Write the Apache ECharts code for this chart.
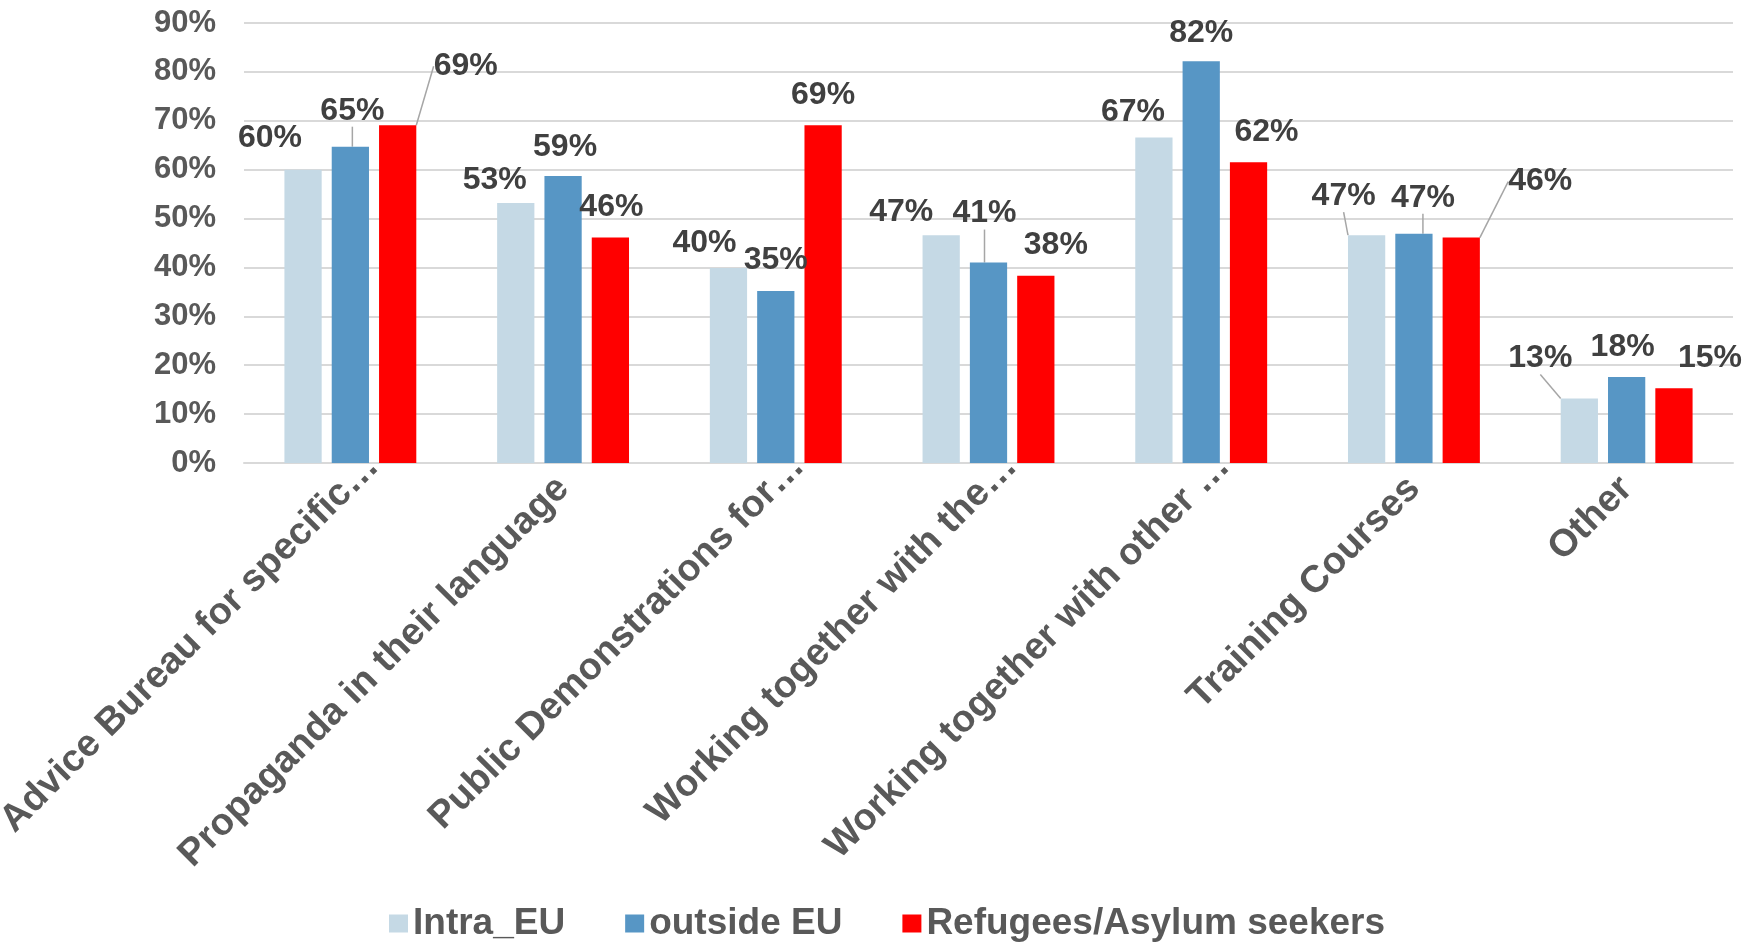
<!DOCTYPE html>
<html>
<head>
<meta charset="utf-8">
<script src="https://cdn.jsdelivr.net/npm/echarts@6/dist/echarts.min.js"></script>
<style>
html,body{margin:0;padding:0;background:#fff;}
#chart{width:1753px;height:944px;}
</style>
</head>
<body>
<div id="chart"></div>
<script>
const categories = [
  "Advice Bureau for specific…",
  "Propaganda in their language",
  "Public Demonstrations for…",
  "Working together with the…",
  "Working together with other …",
  "Training Courses",
  "Other"
];
const seriesNames = ["Intra_EU", "outside EU", "Refugees/Asylum seekers"];
const intraEU = [60, 53.2, 39.9, 46.6, 66.6, 46.6, 13.2];
const outsideEU = [64.7, 58.7, 35.2, 41.0, 82.2, 46.9, 17.6];
const refugees = [69.1, 46.1, 69.1, 38.3, 61.5, 46.1, 15.3];
const yTicks = [0, 10, 20, 30, 40, 50, 60, 70, 80, 90];

// label placement (style): offsets relative to default top position
const labelOffsets = [
  [[-33,-10],[-21,-2],[-24,-4],[-40,-2],[-21,-4],[-23,-18],[-39,-19]],
  [[2,-15],[2,-8],[0,-10],[-4,-28],[0,-7],[9,-15],[-4,-9]],
  [[68,-38],[1,-9],[0,-9],[20,-10],[18,-9],[79,-35],[36,-9]]
];
const leaderLines = [
  [false,false,false,false,false,true,true],
  [true,false,false,true,false,true,false],
  [true,false,false,false,false,true,false]
];
const colors = ["#C5D9E5", "#5796C5", "#FF0000"];
const FONT = "'Liberation Sans', Arial, sans-serif";

const chart = echarts.init(document.getElementById('chart'));
const values = [intraEU, outsideEU, refugees];

const series = values.map((vals, si) => ({
  name: seriesNames[si],
  type: 'bar',
  barGap: '27%',
  barCategoryGap: '38%',
  itemStyle: { color: colors[si] },
  data: vals.map((v, i) => ({
    value: v,
    labelLine: { show: leaderLines[si][i] }
  })),
  label: {
    show: true,
    position: 'top',
    distance: 5,
    fontFamily: FONT,
    fontWeight: 'bold',
    fontSize: 32,
    color: '#404040',
    formatter: p => Math.round(p.value) + '%'
  },
  labelLine: {
    show: false,
    lineStyle: { color: '#A6A6A6', width: 1.5 }
  },
  labelLayout: params => {
    const o = labelOffsets[params.seriesIndex][params.dataIndex];
    return { dx: o[0], dy: o[1] };
  }
}));

const catStyle = { fontFamily: FONT, fontWeight: 'bold', fontSize: 38, color: '#595959' };

chart.setOption({
  animation: false,
  color: colors,
  grid: { left: 244, right: 20, top: 23, bottom: 481, containLabel: false, outerBoundsMode: 'none' },
  legend: {
    data: seriesNames,
    top: 900,
    left: 384,
    itemWidth: 19,
    itemHeight: 18,
    itemGap: 60,
    icon: 'rect',
    textStyle: { fontFamily: FONT, fontWeight: 'bold', fontSize: 37, color: '#595959' }
  },
  xAxis: {
    type: 'category',
    data: categories,
    axisTick: { show: false },
    axisLine: { lineStyle: { color: '#D9D9D9', width: 2 } },
    axisLabel: Object.assign({
      interval: 0,
      rotate: 45,
      margin: 20,
      formatter: v => {
        if (v.endsWith('…')) {
          return '{t|' + v.slice(0, -1) + '}{e|…}';
        }
        return '{t|' + v + '}';
      },
      rich: {
        t: Object.assign({}, catStyle),
        e: Object.assign({ padding: [0, -32, 0, 0] }, catStyle)
      }
    }, catStyle)
  },
  yAxis: {
    type: 'value',
    min: yTicks[0],
    max: yTicks[yTicks.length - 1],
    interval: 10,
    axisLine: { show: false },
    axisTick: { show: false },
    splitLine: { lineStyle: { color: '#D9D9D9', width: 2 } },
    axisLabel: {
      margin: 28,
      fontFamily: FONT,
      fontWeight: 'bold',
      fontSize: 31,
      color: '#595959',
      formatter: v => v + '%'
    }
  },
  series: series
});
</script>
</body>
</html>
